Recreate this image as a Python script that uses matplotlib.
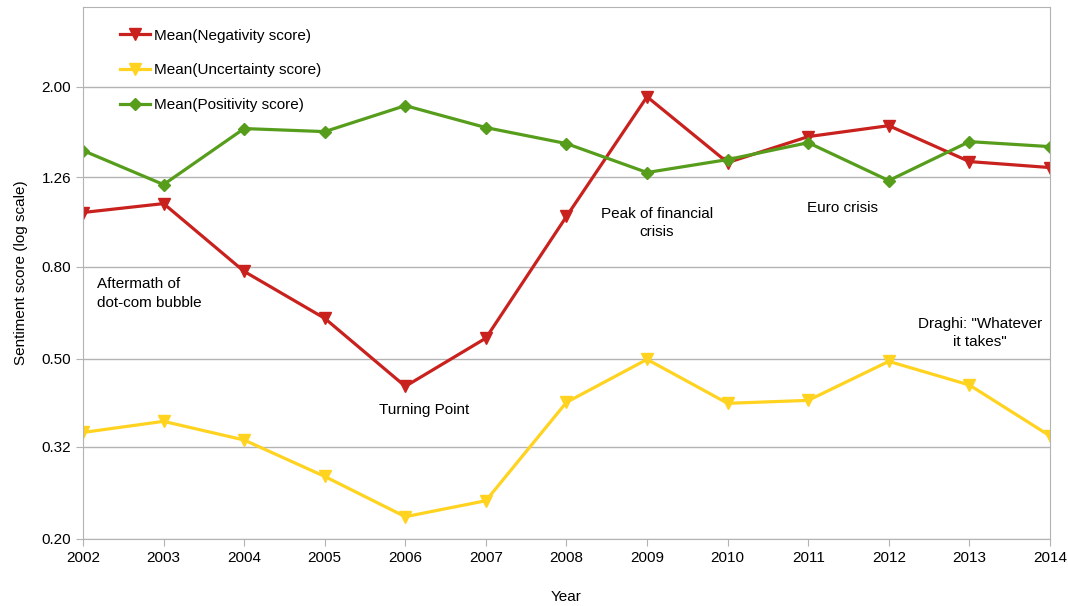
import numpy as np
import matplotlib
matplotlib.use("Agg")
import matplotlib.pyplot as plt
from matplotlib.ticker import FixedLocator, NullLocator, FixedFormatter

plt.rcParams['font.family'] = ['Liberation Sans', 'DejaVu Sans']
plt.rcParams['font.size'] = 11

years = list(range(2002, 2015))
negativity = [1.054, 1.103, 0.781, 0.615, 0.435, 0.556, 1.033, 1.90, 1.359, 1.551, 1.64, 1.366, 1.325]
uncertainty = [0.344, 0.364, 0.331, 0.275, 0.224, 0.243, 0.401, 0.499, 0.399, 0.405, 0.494, 0.438, 0.338]
positivity = [1.445, 1.215, 1.616, 1.591, 1.816, 1.624, 1.497, 1.292, 1.38, 1.504, 1.24, 1.512, 1.474]

y_ticks = [0.20, 0.32, 0.50, 0.80, 1.26, 2.00]

events = [
    (2002.17, 0.698, "Aftermath of\ndot-com bubble", "left"),
    (2006.23, 0.385, "Turning Point", "center"),
    (2009.12, 1.00, "Peak of financial\ncrisis", "center"),
    (2011.43, 1.081, "Euro crisis", "center"),
    (2013.13, 0.570, "Draghi: \"Whatever\nit takes\"", "center"),
]

fig = plt.figure(figsize=(10.68, 6.06), dpi=100)
ax = fig.add_axes([0.0777, 0.1106, 0.9054, 0.8778])

ax.plot(years, negativity, color='#C9211E', lw=2.3, marker='v', ms=9,
        label='Mean(Negativity score)')
ax.plot(years, uncertainty, color='#FFD320', lw=2.3, marker='v', ms=9,
        label='Mean(Uncertainty score)')
ax.plot(years, positivity, color='#579D1C', lw=2.3, marker='D', ms=6,
        label='Mean(Positivity score)')

ax.set_yscale('log')
ax.set_ylim(0.2, 3.0)
ax.set_xlim(2002, 2014)
ax.yaxis.set_major_locator(FixedLocator(y_ticks))
ax.yaxis.set_major_formatter(FixedFormatter([f"{v:.2f}" for v in y_ticks]))
ax.yaxis.set_minor_locator(NullLocator())
ax.set_xticks(years)

ax.grid(axis='y', color='#B3B3B3', lw=1)
for s in ax.spines.values():
    s.set_color('#B3B3B3')
ax.tick_params(colors='#B3B3B3', labelcolor='black', length=5, labelsize=11)

for x, y, txt, ha in events:
    ax.text(x, y, txt, ha=ha, va='center', fontsize=11, linespacing=1.4)

ax.set_ylabel('Sentiment score (log scale)', fontsize=11, labelpad=10)
ax.set_xlabel('Year', fontsize=11, labelpad=18)

ax.legend(loc='upper left', bbox_to_anchor=(0.024, 0.985), frameon=False,
          handlelength=2.0, labelspacing=1.35, handletextpad=0.25, fontsize=11)

fig.savefig('out.png', dpi=100)
